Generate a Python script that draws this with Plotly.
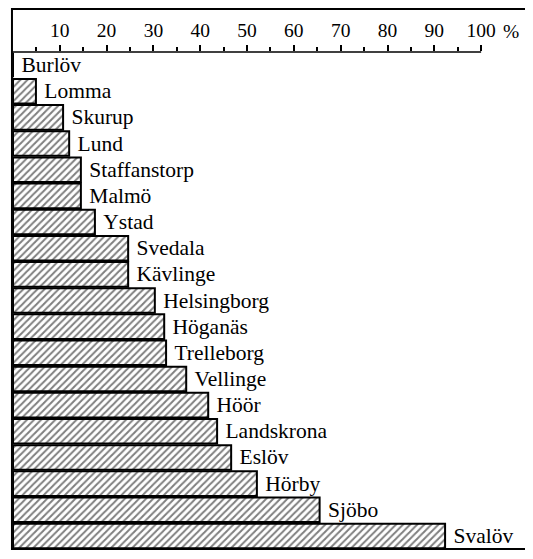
import plotly.graph_objects as go

# kommuner, top to bottom
kommuner = ["Burlöv", "Lomma", "Skurup", "Lund", "Staffanstorp", "Malmö", "Ystad",
            "Svedala", "Kävlinge", "Helsingborg", "Höganäs", "Trelleborg", "Vellinge",
            "Höör", "Landskrona", "Eslöv", "Hörby", "Sjöbo", "Svalöv"]
andel = [0, 4.9, 10.7, 12.0, 14.5, 14.5, 17.5,
         24.6, 24.6, 30.3, 32.3, 32.7, 37.0,
         41.7, 43.6, 46.6, 52.1, 65.5, 92.3]
tick_vals = [10, 20, 30, 40, 50, 60, 70, 80, 90, 100]
tick_text = ["10", "20", "30", "40", "50", "60", "70", "80", "90", "100"]

serif = "Liberation Serif"

fig = go.Figure()
fig.add_trace(go.Bar(
    x=andel,
    y=kommuner,
    orientation="h",
    text=["\u00a0" + k for k in kommuner],
    textposition="outside",
    constraintext="none",
    cliponaxis=False,
    textfont=dict(family=serif, size=21.5, color="black"),
    marker=dict(
        color="white",
        line=dict(color="black", width=2),
        pattern=dict(shape="/", fgcolor="black", bgcolor="white", size=5, solidity=0.4),
    ),
    hoverinfo="skip",
))

# the page puts the figure 8px in from the top left corner
fig.update_layout(
    width=525,
    height=551,
    margin=dict(l=5, r=6, t=44, b=10),
    paper_bgcolor="white",
    plot_bgcolor="white",
    showlegend=False,
    bargap=0.06,
    font=dict(family=serif, color="black"),
    xaxis=dict(
        side="top",
        range=[0, 109.8],
        tickvals=tick_vals,
        ticktext=tick_text,
        ticks="outside",
        ticklen=6,
        tickwidth=1.5,
        tickcolor="black",
        tickfont=dict(family=serif, size=19.5, color="black"),
        minor=dict(tickvals=[5, 15, 25, 35, 45, 55, 65, 75, 85, 95],
                   ticks="outside", ticklen=4, tickwidth=1.5, tickcolor="black"),
        showgrid=False,
        zeroline=False,
        showline=False,
        fixedrange=True,
    ),
    yaxis=dict(
        autorange="reversed",
        showticklabels=False,
        showgrid=False,
        zeroline=False,
        showline=False,
        fixedrange=True,
    ),
)

# axis line only across 0-100
fig.add_shape(type="line", xref="x", yref="paper", x0=0, x1=100, y0=1, y1=1,
              line=dict(color="black", width=1.5))
# outer frame
fig.add_shape(type="rect", xref="paper", yref="paper", x0=-0.002, x1=1, y0=0, y1=1.0865,
              line=dict(color="black", width=2))
fig.add_annotation(x=100, y=1, xref="x", yref="paper", text="%", showarrow=False,
                   xanchor="left", yanchor="bottom", xshift=20, yshift=8,
                   font=dict(family=serif, size=19.5, color="black"))

fig.write_html("out.html")
